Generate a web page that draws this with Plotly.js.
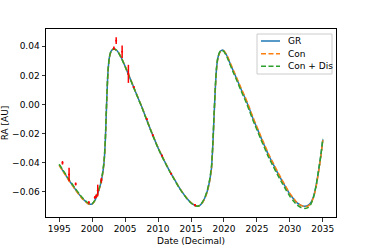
<!DOCTYPE html>
<html>
<head>
<meta charset="utf-8">
<script src="https://cdn.plot.ly/plotly-3.0.1.min.js"></script>
<style>html,body{margin:0;padding:0;background:#fff;}#chart{width:374px;height:249px;}</style>
</head>
<body>
<div id="chart"></div>
<script>
const dates = [
 1995.0, 1995.5, 1996.0, 1996.5, 1997.0, 1997.5, 1998.0, 1998.5, 1999.0, 1999.5,
 2000.0, 2000.4, 2000.8, 2001.2, 2001.5, 2001.8, 2002.0, 2002.2, 2002.4, 2002.6,
 2002.8, 2003.0, 2003.3, 2003.6, 2004.0, 2004.5, 2005.0, 2005.6, 2006.2, 2006.8,
 2007.5, 2008.1, 2008.8, 2009.4, 2010.0, 2010.6, 2011.2, 2011.8, 2012.5, 2013.1,
 2013.7, 2014.3, 2014.9, 2015.5, 2016.0, 2016.4, 2016.8, 2017.2, 2017.5, 2017.8,
 2018.1, 2018.3, 2018.5, 2018.7, 2018.9, 2019.1, 2019.4, 2019.7, 2020.0, 2020.5,
 2021.0, 2021.5, 2022.0, 2022.6, 2023.2, 2023.8, 2024.4, 2025.0, 2025.6, 2026.2,
 2026.8, 2027.5, 2028.1, 2028.7, 2029.4, 2030.0, 2030.6, 2031.1, 2031.7, 2032.3,
 2032.8, 2033.2, 2033.6, 2034.0, 2034.4, 2034.7, 2035.0];

const raGR = [
 -0.0415, -0.0450, -0.0485, -0.0520, -0.0552, -0.0585, -0.0615, -0.0643, -0.0665, -0.0683,
 -0.0682, -0.0660, -0.0618, -0.0560, -0.0500, -0.0400, -0.0250, 0.0010, 0.0220, 0.0318,
 0.0357, 0.0375, 0.0382, 0.0377, 0.0357, 0.0315, 0.0263, 0.0197, 0.0131, 0.0064,
 -0.0012, -0.0083, -0.0165, -0.0232, -0.0297, -0.0354, -0.0408, -0.0460, -0.0515, -0.0562,
 -0.0603, -0.0640, -0.0670, -0.0690, -0.0698, -0.0690, -0.0668, -0.0630, -0.0590, -0.0530,
 -0.0440, -0.0290, -0.0080, 0.0120, 0.0260, 0.0325, 0.0362, 0.0374, 0.0368, 0.0330,
 0.0275, 0.0222, 0.0170, 0.0105, 0.0045, -0.0022, -0.0095, -0.0160, -0.0225, -0.0288,
 -0.0350, -0.0412, -0.0465, -0.0515, -0.0570, -0.0615, -0.0650, -0.0675, -0.0692, -0.0699,
 -0.0691, -0.0672, -0.0630, -0.0552, -0.0442, -0.0352, -0.0240];

const raCon = [
 -0.0418, -0.0453, -0.0488, -0.0523, -0.0555, -0.0588, -0.0618, -0.0646, -0.0668, -0.0685,
 -0.0683, -0.0661, -0.0619, -0.0561, -0.0501, -0.0402, -0.0252, 0.0008, 0.0218, 0.0317,
 0.0356, 0.0374, 0.0381, 0.0377, 0.0358, 0.0316, 0.0264, 0.0198, 0.0132, 0.0065,
 -0.0011, -0.0082, -0.0164, -0.0231, -0.0296, -0.0353, -0.0407, -0.0459, -0.0514, -0.0561,
 -0.0602, -0.0639, -0.0669, -0.0690, -0.0698, -0.0691, -0.0669, -0.0632, -0.0592, -0.0533,
 -0.0444, -0.0295, -0.0086, 0.0115, 0.0256, 0.0322, 0.0360, 0.0373, 0.0369, 0.0334,
 0.0281, 0.0229, 0.0177, 0.0113, 0.0053, -0.0014, -0.0087, -0.0152, -0.0217, -0.0280,
 -0.0342, -0.0404, -0.0458, -0.0508, -0.0564, -0.0610, -0.0646, -0.0673, -0.0692, -0.0702,
 -0.0696, -0.0678, -0.0637, -0.0560, -0.0450, -0.0358, -0.0245];

const raConDis = [
 -0.0410, -0.0445, -0.0480, -0.0515, -0.0547, -0.0580, -0.0610, -0.0638, -0.0661, -0.0680,
 -0.0681, -0.0658, -0.0614, -0.0555, -0.0494, -0.0392, -0.0240, 0.0022, 0.0228, 0.0322,
 0.0359, 0.0376, 0.0382, 0.0376, 0.0355, 0.0313, 0.0261, 0.0195, 0.0129, 0.0062,
 -0.0014, -0.0085, -0.0167, -0.0234, -0.0299, -0.0356, -0.0410, -0.0462, -0.0517, -0.0564,
 -0.0605, -0.0642, -0.0672, -0.0692, -0.0698, -0.0689, -0.0665, -0.0626, -0.0584, -0.0522,
 -0.0428, -0.0276, -0.0064, 0.0132, 0.0266, 0.0328, 0.0364, 0.0373, 0.0364, 0.0322,
 0.0266, 0.0212, 0.0160, 0.0094, 0.0033, -0.0035, -0.0108, -0.0173, -0.0239, -0.0302,
 -0.0365, -0.0427, -0.0480, -0.0530, -0.0585, -0.0630, -0.0665, -0.0690, -0.0707, -0.0713,
 -0.0706, -0.0683, -0.0636, -0.0552, -0.0438, -0.0346, -0.0235];

const obsDates = [1995.5, 1996.5, 1997.5, 1999.5, 2000.4, 2000.6, 2000.85, 2001.4, 2003.3, 2003.65, 2004.55, 2005.5, 2006.3, 2008.3, 2009.2, 2010.6, 2012.0, 2015.6];
const obsRA = [-0.0400, -0.0480, -0.0545, -0.0672, -0.0638, -0.0630, -0.0590, -0.0520, 0.0387, 0.0439, 0.0363, 0.0211, 0.0120, -0.0100, -0.0210, -0.0350, -0.0475, -0.0690];
const obsErr = [0.0012, 0.0046, 0.0010, 0.0008, 0.0008, 0.0012, 0.0040, 0.0017, 0.0011, 0.0023, 0.0043, 0.0062, 0.0006, 0.0006, 0.0006, 0.0006, 0.0006, 0.0008];

const seriesNames = ['GR', 'Con', 'Con + Dis'];
const seriesColors = ['#1f77b4', '#ff7f0e', '#2ca02c'];
const seriesDash = ['solid', '5px,2.5px', '5px,2.5px'];
const xTicks = [1995, 2000, 2005, 2010, 2015, 2020, 2025, 2030, 2035];
const yTicks = [-0.06, -0.04, -0.02, 0.00, 0.02, 0.04];

const font = {family: 'DejaVu Sans, sans-serif', size: 9, color: '#000'};

const seriesY = [raGR, raCon, raConDis];
const traces = seriesY.map((ys, i) => ({
  x: dates, y: ys, name: seriesNames[i], mode: 'lines', showlegend: false,
  line: {color: seriesColors[i], width: 1.5, dash: seriesDash[i], shape: 'spline', smoothing: 0.6}
}));
traces.push({x: obsDates, y: obsRA, mode: 'markers', showlegend: false,
   marker: {color: '#ff0000', size: 2},
   error_y: {type: 'data', array: obsErr, visible: true, color: '#ff0000', thickness: 1.5, width: 0}});

// legend box (matplotlib style), placed in paper coordinates
const W = 374, H = 249, ML = 46, MR = 38, MT = 29, MB = 32;
const pw = W - ML - MR, ph = H - MT - MB;
const px = v => (v - ML) / pw;
const py = v => (H - MB - v) / ph;
const shapes = [{type: 'rect', xref: 'paper', yref: 'paper', x0: px(257), x1: px(332), y0: py(34), y1: py(74),
  fillcolor: 'rgba(255,255,255,0.85)', line: {color: '#cccccc', width: 1}}];
const annotations = [];
const rowY = [41, 53.7, 66.3];
seriesNames.forEach((n, i) => {
  shapes.push({type: 'line', xref: 'paper', yref: 'paper', x0: px(261), x1: px(280), y0: py(rowY[i]), y1: py(rowY[i]),
    line: {color: seriesColors[i], width: 1.5, dash: seriesDash[i]}});
  annotations.push({xref: 'paper', yref: 'paper', x: px(285.5), y: py(rowY[i]), xanchor: 'left', yanchor: 'middle',
    text: n, showarrow: false, font: font});
});

const axisCommon = {
  showline: true, linecolor: '#000', linewidth: 1, mirror: true,
  ticks: 'outside', ticklen: 3.5, tickwidth: 0.8, tickcolor: '#000',
  showgrid: false, zeroline: false, tickfont: font
};

const layout = {
  width: W, height: H,
  margin: {l: ML, r: MR, t: MT, b: MB},
  paper_bgcolor: '#fff', plot_bgcolor: '#fff',
  font: font,
  xaxis: Object.assign({}, axisCommon, {
    range: [1993, 2037], tickvals: xTicks, ticktext: xTicks.map(String),
    title: {text: 'Date (Decimal)', font: font, standoff: 4}
  }),
  yaxis: Object.assign({}, axisCommon, {
    range: [-0.0772, 0.0519], tickvals: yTicks, tickformat: '.2f',
    title: {text: 'RA [AU]', font: font, standoff: 7}
  }),
  shapes: shapes,
  annotations: annotations,
  showlegend: false
};

Plotly.newPlot('chart', traces, layout, {staticPlot: true, displayModeBar: false});
</script>
</body>
</html>
